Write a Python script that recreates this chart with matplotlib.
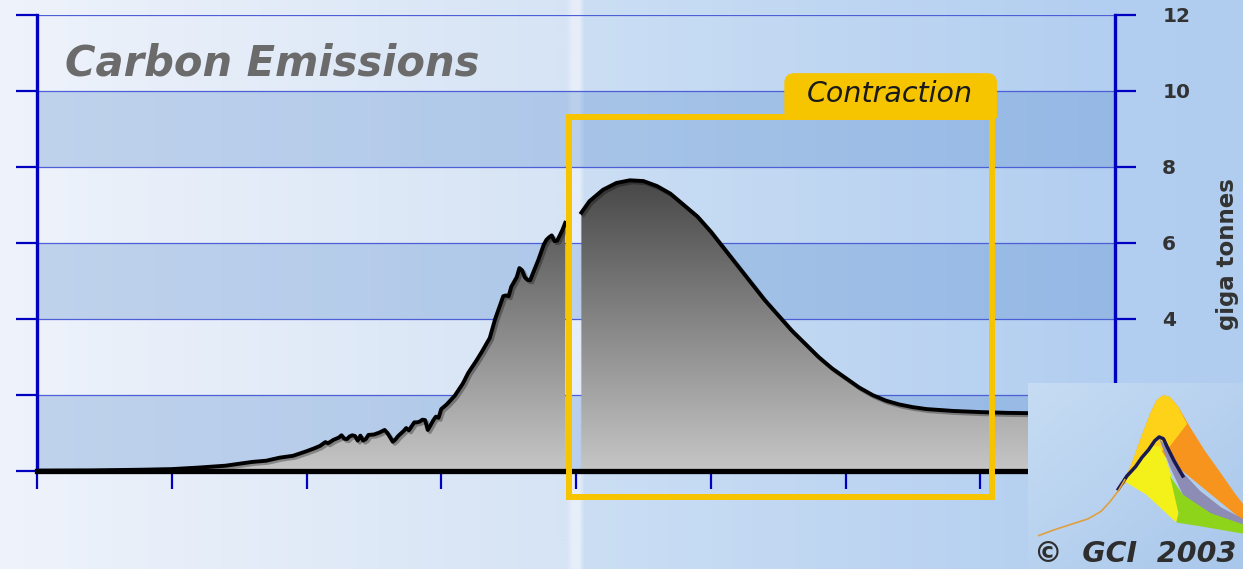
import numpy as np
import matplotlib.pyplot as plt
from matplotlib.colors import LinearSegmentedColormap
from matplotlib.patches import Rectangle, FancyBboxPatch, Polygon
from matplotlib.path import Path
import matplotlib.patheffects as pe

# historical carbon emissions (giga tonnes)
hist_years = [1800, 1820, 1840, 1850, 1860, 1870, 1880, 1885, 1890, 1895,
              1900, 1903, 1905, 1907, 1908, 1910, 1912, 1913, 1914, 1915,
              1916, 1917, 1918, 1919, 1920, 1921, 1922, 1923, 1925, 1927,
              1929, 1930, 1931, 1932, 1933, 1934, 1936, 1937, 1938, 1940,
              1941, 1942, 1943, 1944, 1945, 1946, 1947, 1948, 1949, 1950,
              1952, 1955, 1958, 1960, 1963, 1965, 1968, 1970, 1972, 1973,
              1974, 1975, 1976, 1978, 1979, 1980, 1981, 1982, 1983, 1984,
              1986, 1988, 1989, 1990, 1991, 1992, 1993, 1994, 1995, 1996]
hist_values = [0.01, 0.015, 0.035, 0.05, 0.09, 0.14, 0.24, 0.27, 0.35, 0.40,
               0.52, 0.60, 0.66, 0.76, 0.73, 0.82, 0.88, 0.94, 0.85, 0.84,
               0.91, 0.94, 0.92, 0.80, 0.93, 0.80, 0.84, 0.95, 0.96, 1.01,
               1.08, 1.00, 0.89, 0.77, 0.83, 0.92, 1.05, 1.13, 1.07, 1.28,
               1.28, 1.30, 1.35, 1.34, 1.08, 1.20, 1.33, 1.43, 1.40, 1.63,
               1.75, 1.98, 2.30, 2.58, 2.90, 3.13, 3.50, 4.00, 4.40, 4.60,
               4.62, 4.60, 4.85, 5.10, 5.34, 5.28, 5.10, 5.03, 5.02, 5.20,
               5.55, 5.95, 6.08, 6.15, 6.20, 6.05, 6.06, 6.20, 6.35, 6.53]

# contraction scenario
future_years = [2002, 2005, 2010, 2015, 2020, 2025, 2030, 2035, 2040, 2045,
                2050, 2055, 2060, 2065, 2070, 2075, 2080, 2085, 2090, 2095,
                2100, 2105, 2110, 2115, 2120, 2125, 2130, 2140, 2150, 2160,
                2170, 2180, 2200]
future_values = [6.80, 7.10, 7.40, 7.58, 7.65, 7.63, 7.50, 7.30, 7.00, 6.70,
                 6.30, 5.85, 5.40, 4.95, 4.50, 4.10, 3.70, 3.35, 3.00, 2.70,
                 2.45, 2.20, 2.00, 1.85, 1.75, 1.68, 1.63, 1.58, 1.55, 1.53,
                 1.52, 1.52, 1.52]

y_ticks = [0, 2, 4, 6, 8, 10, 12]
x_ticks = [1800, 1850, 1900, 1950, 2000, 2050, 2100, 2150, 2200]

# small logo (GCI) shapes, in logo box units
logo_orange_x = [0.43, 0.48, 0.53, 0.57, 0.60, 0.63, 0.66, 0.70, 0.75, 0.82, 0.90, 0.96, 1.0, 1.0, 0.62]
logo_orange_y = [0.44, 0.56, 0.72, 0.84, 0.91, 0.935, 0.925, 0.87, 0.77, 0.64, 0.51, 0.41, 0.35, 0.26, 0.62]
logo_yellow_x = [0.43, 0.48, 0.53, 0.57, 0.60, 0.63, 0.66, 0.70, 0.74, 0.66, 0.60]
logo_yellow_y = [0.44, 0.56, 0.72, 0.84, 0.91, 0.935, 0.925, 0.87, 0.78, 0.66, 0.62]
logo_low_x = [0.45, 0.52, 0.58, 0.61, 0.64, 0.68, 0.70, 0.69, 0.55]
logo_low_y = [0.47, 0.60, 0.66, 0.66, 0.60, 0.45, 0.30, 0.25, 0.40]
logo_purple_x = [0.61, 0.66, 0.72, 0.80, 0.90, 1.0, 1.0, 0.85, 0.72, 0.66]
logo_purple_y = [0.70, 0.64, 0.52, 0.42, 0.33, 0.27, 0.22, 0.28, 0.40, 0.55]
logo_green_x = [0.66, 0.70, 0.69, 0.80, 0.90, 1.0, 1.0, 0.85, 0.72]
logo_green_y = [0.50, 0.30, 0.25, 0.23, 0.21, 0.19, 0.24, 0.30, 0.40]
logo_peak_x = [0.42, 0.46, 0.50, 0.53, 0.56, 0.59, 0.61, 0.63, 0.65, 0.68, 0.72]
logo_peak_y = [0.43, 0.50, 0.55, 0.60, 0.64, 0.69, 0.71, 0.70, 0.65, 0.58, 0.50]
logo_trail_x = [0.05, 0.12, 0.20, 0.28, 0.34, 0.38, 0.42, 0.45]
logo_trail_y = [0.18, 0.21, 0.24, 0.27, 0.31, 0.36, 0.42, 0.48]

W, H = 1243, 569
fig = plt.figure(figsize=(W / 100, H / 100), dpi=100)

# background: horizontal light-blue gradient with a pale strip at 2000
bg = fig.add_axes([0, 0, 1, 1], zorder=-10)
bg.axis('off')
anchor_px = [0, 555, 566, 572, 579, 584, 1110, 1243]
anchor_rgb = np.array([(239, 243, 251), (214, 228, 245), (214, 228, 245), (230, 238, 249),
                       (230, 238, 249), (203, 222, 244), (178, 206, 240), (176, 204, 238)]) / 255
cols = np.arange(W)
bg_img = np.stack([np.interp(cols, anchor_px, anchor_rgb[:, k]) for k in range(3)], axis=-1)[None, :, :]
bg.imshow(bg_img, aspect='auto', extent=[0, 1, 0, 1])
bg.set_xlim(0, 1)
bg.set_ylim(0, 1)

ax = fig.add_axes([37 / W, (H - 471) / H, (1115 - 37) / W, 456 / H])
ax.set_facecolor('none')

# alternating bands
for lo in (0, 4, 8):
    ax.axhspan(lo, lo + 2, color=(75 / 255, 130 / 255, 202 / 255), alpha=0.28, lw=0, zorder=0.5)

# gray gradient fill under both curves
p1 = ax.fill_between(hist_years, hist_values, 0, color='none', lw=0)
p2 = ax.fill_between(future_years, future_values, 0, color='none', lw=0)
clip = Path.make_compound_path(p1.get_paths()[0], p2.get_paths()[0])
gray = LinearSegmentedColormap.from_list('gray_fill', ['#c6c6c6', '#454545'])
grad = np.linspace(0, 1, 256).reshape(-1, 1)
im = ax.imshow(grad, extent=[1800, 2200, 0, 7.8], origin='lower', cmap=gray,
               aspect='auto', zorder=2)
im.set_clip_path(clip, ax.transData)

shadow = [pe.SimpleLineShadow(offset=(1.5, -1.5), alpha=0.3), pe.Normal()]
ax.plot(hist_years, hist_values, color='black', lw=2.8, zorder=3,
        solid_joinstyle='round', path_effects=shadow)
ax.plot(future_years, future_values, color='black', lw=2.8, zorder=3,
        solid_joinstyle='round', path_effects=shadow)

ax.set_xlim(1800, 2200)
ax.set_ylim(0, 12)
ax.set_xticks(x_ticks)
ax.set_yticks(y_ticks)
ax.yaxis.grid(True, color='#4c5fd6', lw=0.9)
ax.set_axisbelow(True)

ax.tick_params(axis='x', direction='out', length=13, width=1.6, color='#0000c0',
               labelbottom=False)
ax.tick_params(axis='y', left=True, right=True, labelleft=False, labelright=True,
               direction='out', length=15, width=1.6, color='#0000c0', pad=19,
               labelsize=14.5, labelcolor='#333333')
for t in ax.yaxis.get_major_ticks():
    t.label2.set_fontweight('bold')

ax.spines['top'].set_visible(False)
ax.spines['bottom'].set_color('black')
ax.spines['bottom'].set_linewidth(3.8)
ax.spines['bottom'].set_zorder(4)
for s in ('left', 'right'):
    ax.spines[s].set_color('#0000c0')
    ax.spines[s].set_linewidth(2.4)

# contraction box with tab
ax.add_patch(Rectangle((1997.4, -0.68), 2154.3 - 1997.4, 9.32 + 0.68, fill=False,
                       ec='#f7c400', lw=4.3, zorder=5, clip_on=False))
tab = FancyBboxPatch((2077.3, 8.9), 2156.2 - 2077.3, 10.47 - 8.9,
                     boxstyle='round,pad=0,rounding_size=3.7', mutation_aspect=0.07,
                     fc='#f7c400', ec='none', zorder=5, clip_on=True)
ax.add_patch(tab)
tab.set_clip_path(Rectangle((2070, 9.3), 100, 2, transform=ax.transData))
ax.text(2116.4, 9.92, 'Contraction', ha='center', va='center', fontsize=20.5,
        style='italic', color='#1a1a1a', zorder=7)

fig.text(65 / W, 1 - 76 / H, 'Carbon Emissions', fontsize=30, fontweight='bold',
         style='italic', color='#6b6b6b', va='baseline')
fig.text(1227.5 / W, 1 - 254 / H, 'giga tonnes', rotation=90, ha='center', va='center',
         fontsize=16.5, fontweight='bold', color='#333333')

# GCI logo, bottom right
lax = fig.add_axes([1028 / W, 0, 215 / W, 186 / H], zorder=10)
lax.set_xlim(0, 1)
lax.set_ylim(0, 1)
lax.axis('off')
logo_bg = LinearSegmentedColormap.from_list('logo_bg', ['#c6dcf3', '#a9c7eb'])
lx, ly = np.meshgrid(np.linspace(0, 1, 50), np.linspace(0, 1, 50))
lax.imshow((lx + (1 - ly)) / 2, extent=[0, 1, 0, 1], cmap=logo_bg, aspect='auto', origin='lower')
lax.add_patch(Polygon(np.column_stack([logo_orange_x, logo_orange_y]), fc='#f7941d', ec='none'))
lax.add_patch(Polygon(np.column_stack([logo_yellow_x, logo_yellow_y]), fc='#ffd21a', ec='none'))
lax.add_patch(Polygon(np.column_stack([logo_low_x, logo_low_y]), fc='#f4f01a', ec='none'))
lax.add_patch(Polygon(np.column_stack([logo_purple_x, logo_purple_y]), fc='#8c8cb4', ec='none'))
lax.add_patch(Polygon(np.column_stack([logo_green_x, logo_green_y]), fc='#8ed41a', ec='none'))
lax.plot(logo_peak_x, logo_peak_y, color='#1a1a50', lw=2.5)
lax.plot(logo_trail_x, logo_trail_y, color='#e0a040', lw=1.2)
lax.text(0.03, 0.04, '\u00a9  GCI  2003', fontsize=20.5, fontweight='bold', style='italic',
         color='#2e2e2e', transform=lax.transAxes)

fig.savefig('out.png', dpi=100)
